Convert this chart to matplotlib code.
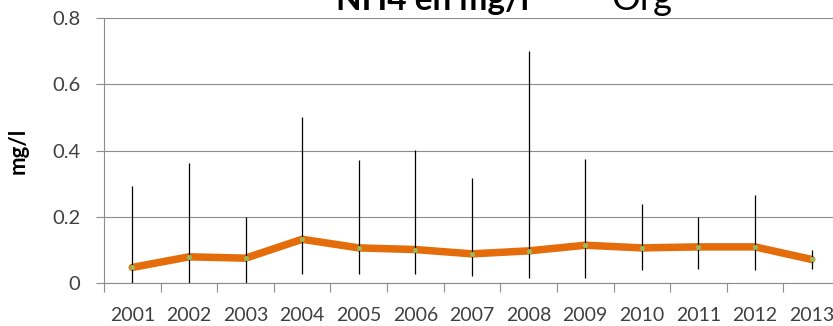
import matplotlib.pyplot as plt
import numpy as np

plt.rcParams["font.family"] = ["Lato", "DejaVu Sans"]

years = [2001, 2002, 2003, 2004, 2005, 2006, 2007, 2008, 2009, 2010, 2011, 2012, 2013]
mean_vals = [0.047, 0.079, 0.075, 0.132, 0.106, 0.101, 0.088, 0.097, 0.114, 0.106, 0.109, 0.109, 0.071]
min_vals = [0.0, 0.0, 0.0, 0.027, 0.027, 0.027, 0.022, 0.014, 0.014, 0.039, 0.042, 0.039, 0.042]
max_vals = [0.293, 0.361, 0.200, 0.502, 0.371, 0.401, 0.316, 0.700, 0.374, 0.240, 0.200, 0.266, 0.100]
y_ticks = [0, 0.2, 0.4, 0.6, 0.8]
y_tick_labels = ["0", "0.2", "0.4", "0.6", "0.8"]

W, H = 833, 326
fig = plt.figure(figsize=(W / 100, H / 100), dpi=100)
ax = fig.add_axes([104 / W, 43 / H, 736 / W, 265 / H])

grid_col = "#8c8c8c"
text_col = "#404040"

ax.vlines(years, min_vals, max_vals, color="black", linewidth=0.9, zorder=4)
ax.plot(years, mean_vals, color="#e46c0a", linewidth=5.4, solid_capstyle="round",
        solid_joinstyle="round", zorder=3)
ax.plot(years, mean_vals, linestyle="none", marker="o", markersize=2.6,
        color="#9bbb59", zorder=5)

ax.set_xlim(2000.5, 2013.5)
ax.set_ylim(0, 0.8)

ax.set_yticks(y_ticks)
ax.set_yticklabels(y_tick_labels)
ax.yaxis.grid(True, color=grid_col, linewidth=0.8)
ax.set_axisbelow(True)

ax.set_xticks(np.arange(2000.5, 2014.5, 1))
ax.set_xticklabels([])
ax.set_xticks(years, minor=True)
ax.set_xticklabels([str(y) for y in years], minor=True)

ax.tick_params(axis="y", direction="out", length=6, width=0.8, color=grid_col,
               pad=11, labelsize=14.5, labelcolor=text_col)
ax.tick_params(axis="x", which="major", direction="out", length=6.5, width=0.8,
               color=grid_col)
ax.tick_params(axis="x", which="minor", length=0, pad=17, labelsize=14,
               labelcolor=text_col)

for side in ["top", "right"]:
    ax.spines[side].set_visible(False)
for side in ["left", "bottom"]:
    ax.spines[side].set_color(grid_col)
    ax.spines[side].set_linewidth(0.8)

ax.set_ylabel("mg/l", fontsize=16, fontweight="bold", color="black")
ax.yaxis.set_label_coords(-0.103, 0.5)

# title is clipped by the top edge in the original
fig.text(433 / W, 1 - 10 / H, "NH4 en mg/l", ha="center", va="baseline",
         fontsize=24, fontweight="bold", color="black")
fig.text(642 / W, 1 - 10 / H, "Org", ha="center", va="baseline",
         fontsize=26, color="black")

fig.savefig("out.png", dpi=100)
